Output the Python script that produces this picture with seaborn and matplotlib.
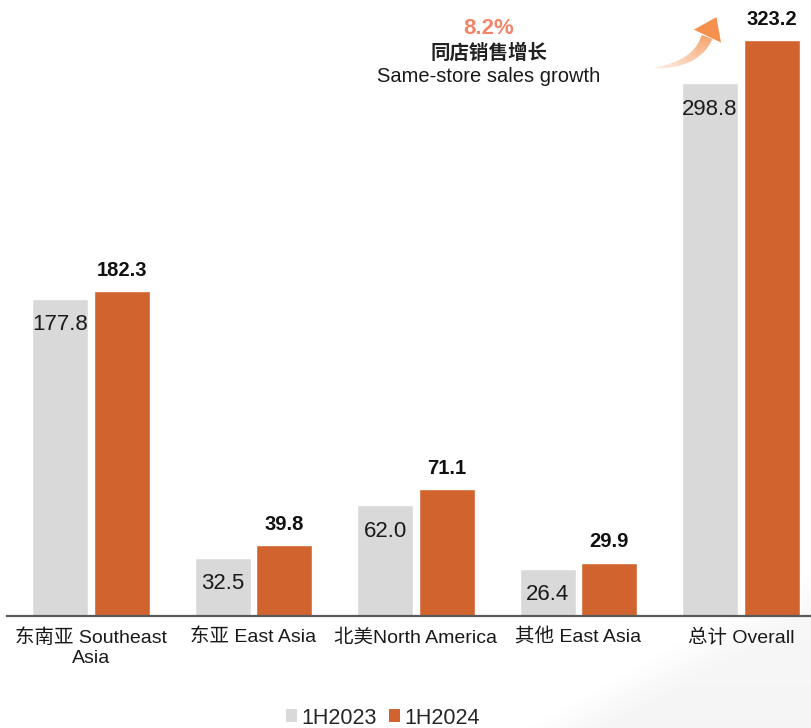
import numpy as np
import pandas as pd
import matplotlib
matplotlib.use("Agg")
import matplotlib.pyplot as plt
import seaborn as sns
from matplotlib.patches import Patch, Polygon
from matplotlib.collections import LineCollection

# ---- data -------------------------------------------------------------
categories = ["东南亚 Southeast\nAsia", "东亚 East Asia", "北美North America",
              "其他 East Asia", "总计 Overall"]
periods = ["1H2023", "1H2024"]
values_2023 = [177.8, 32.5, 62.0, 26.4, 298.8]
values_2024 = [182.3, 39.8, 71.1, 29.9, 323.2]
growth_pct = "8.2%"
growth_cn = "同店销售增长"
growth_en = "Same-store sales growth"

GRAY = "#d9d9d9"
ORANGE = "#d1632e"

sns.set_style("white")
plt.rcParams["font.family"] = ["Liberation Sans", "Noto Sans CJK SC", "DejaVu Sans"]

df = pd.DataFrame({
    "region": categories * 2,
    "period": [periods[0]] * len(categories) + [periods[1]] * len(categories),
    "sales": values_2023 + values_2024,
})

W, H = 812, 728
fig = plt.figure(figsize=(W / 100, H / 100), dpi=100)
fig.patch.set_facecolor("white")

# very soft diagonal shading across the lower right of the canvas
yy, xx = np.mgrid[0:H, 0:W].astype(float)
dist = ((xx - 545) * 0.49 + (yy - 728) * 0.87)  # signed distance to diagonal
ramp = np.clip((dist + 10) / 40.0, 0, 1)
fade = np.clip(1 - (728 - yy) / 260.0, 0, 1) ** 0.5
shade = np.ones((H, W, 4))
shade[..., :3] = 0.93
shade[..., 3] = 0.55 * ramp * fade
bg = fig.add_axes([0, 0, 1, 1], zorder=-5)
bg.imshow(shade, extent=(0, 1, 0, 1), aspect="auto", interpolation="bilinear")
bg.set_axis_off()

ax = fig.add_axes([7 / W, 112 / H, (W - 7) / W, 616 / H])
ax.patch.set_alpha(0)

sns.barplot(data=df, x="region", y="sales", hue="period", order=categories,
            hue_order=periods, palette=[GRAY, ORANGE], width=0.76, gap=0.09,
            saturation=1, ax=ax, legend=False, errorbar=None)

ax.set_ylim(0, 345.6)
ax.set_xlim(-0.517, 4.437)
ax.set_xlabel("")
ax.set_ylabel("")
ax.set_yticks([])
ax.tick_params(axis="x", length=0, pad=9, labelsize=14, colors="#1a1a1a")
for lab in ax.get_xticklabels():
    lab.set_linespacing(1.25)
for side in ("left", "right", "top"):
    ax.spines[side].set_visible(False)
ax.spines["bottom"].set_color("#5a5a5a")
ax.spines["bottom"].set_linewidth(1.6)

# value labels: inside the gray bars, bold above the orange bars
for bar, v in zip(ax.containers[0], values_2023):
    ax.annotate(f"{v:.1f}", (bar.get_x() + bar.get_width() / 2, bar.get_height()),
                xytext=(0, -18.5), textcoords="offset points", ha="center",
                va="center", fontsize=16, color="#1a1a1a")
for bar, v in zip(ax.containers[1], values_2024):
    ax.annotate(f"{v:.1f}", (bar.get_x() + bar.get_width() / 2, bar.get_height()),
                xytext=(0, 15), textcoords="offset points", ha="center",
                va="center", fontsize=14.5, fontweight="bold", color="#111111")

# growth call-out
fig.text(489 / W, 1 - 29 / H, growth_pct, ha="center", va="center",
         fontsize=16, fontweight="bold", color="#f0876a")
fig.text(489 / W, 1 - 53 / H, growth_cn, ha="center", va="center",
         fontsize=14, fontweight="bold", color="#222222")
fig.text(489 / W, 1 - 77 / H, growth_en, ha="center", va="center",
         fontsize=14.5, color="#1a1a1a")

# curved gradient arrow
p0 = np.array([655.0, 68.0])
p1 = np.array([697.0, 64.0])
p2 = np.array([707.0, 37.0])
t = np.linspace(0, 1, 80)[:, None]
curve = (1 - t) ** 2 * p0 + 2 * (1 - t) * t * p1 + t ** 2 * p2
pts = np.column_stack([curve[:, 0] / W, 1 - curve[:, 1] / H])
segs = np.stack([pts[:-1], pts[1:]], axis=1)
c0 = np.array(matplotlib.colors.to_rgb("#fdf0e8"))
c1 = np.array(matplotlib.colors.to_rgb("#f5904f"))
frac = np.linspace(0, 1, len(segs))[:, None]
cols = c0 * (1 - frac) + c1 * frac
widths = 0.8 + 7.5 * frac[:, 0] ** 0.8
lc = LineCollection(segs, colors=cols, linewidths=widths,
                    transform=fig.transFigure, capstyle="butt")
fig.add_artist(lc)
d = np.array([9.0, -19.0])
d = d / np.hypot(*d)
n = np.array([-d[1], d[0]])
base = p2 + d * 1.0
tip = base + d * 21
b1 = base + n * 15
b2 = base - n * 15
head = Polygon([(q[0] / W, 1 - q[1] / H) for q in (tip, b1, b2)], closed=True,
               transform=fig.transFigure, facecolor="#f5904f", edgecolor="none")
fig.add_artist(head)

# legend
handles = [Patch(facecolor=GRAY, edgecolor="none", label=periods[0]),
           Patch(facecolor=ORANGE, edgecolor="none", label=periods[1])]
fig.legend(handles=handles, loc="center", bbox_to_anchor=(383 / W, 1 - 718 / H),
           ncol=2, frameon=False, fontsize=15.5, handlelength=0.5,
           handleheight=0.55, handletextpad=0.2, columnspacing=0.6,
           borderpad=0)

fig.savefig("out.png", dpi=100)
